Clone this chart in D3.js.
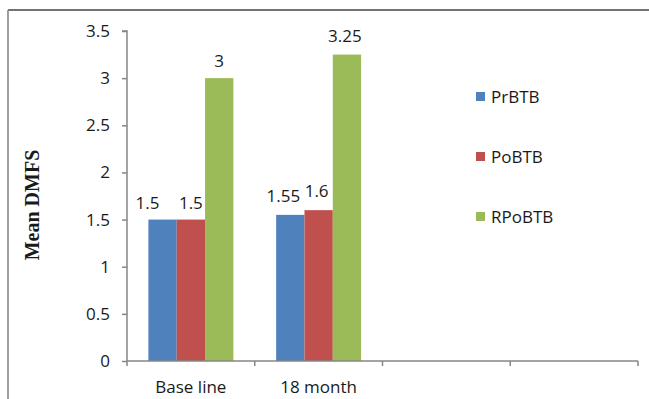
<!DOCTYPE html>
<html>
<head>
<meta charset="utf-8">
<script src="https://cdn.jsdelivr.net/npm/d3@7"></script>
<style>
  html, body { margin: 0; padding: 0; background: #fff; }
  svg { display: block; }
  text { font-family: "Open Sans", "Noto Sans", sans-serif; fill: #1a1a1a; }
</style>
</head>
<body>
<svg id="chart" width="649" height="399"></svg>
<script>
// Category slots on the x axis (the last two are left empty)
const categories = ["Base line", "18 month", "", ""];
const seriesNames = ["PrBTB", "PoBTB", "RPoBTB"];
const prBTB  = [1.5, 1.55];
const poBTB  = [1.5, 1.6];
const rpoBTB = [3, 3.25];
const yTicks = [0, 0.5, 1, 1.5, 2, 2.5, 3, 3.5];
const colors = ["#4F81BD", "#C0504D", "#9BBB59"];

const values = [prBTB, poBTB, rpoBTB];
const FS = 17;

const svg = d3.select("#chart");

// Frame around the chart
svg.append("line").attr("x1", 8).attr("x2", 649).attr("y1", 10).attr("y2", 10)
  .attr("stroke", "#444").attr("stroke-width", 1.6);
svg.append("line").attr("x1", 8).attr("x2", 8).attr("y1", 10).attr("y2", 399)
  .attr("stroke", "#888").attr("stroke-width", 1.6);

const x = d3.scaleBand().domain(d3.range(categories.length)).range([127, 638]).padding(0);
const y = d3.scaleLinear().domain([0, 3.5]).range([361, 31]);

const groupW = x.bandwidth() * 0.665;
const xs = d3.scaleBand().domain(d3.range(seriesNames.length)).range([0, groupW]).padding(0);

// Bars
const groups = svg.append("g");
values.forEach((vals, s) => {
  groups.selectAll(null)
    .data(vals)
    .enter().append("rect")
    .attr("x", (d, i) => x(i) + (x.bandwidth() - groupW) / 2 + xs(s))
    .attr("y", d => y(d))
    .attr("width", xs.bandwidth())
    .attr("height", d => y(0) - y(d))
    .attr("fill", colors[s]);
});

// Value labels above bars (small horizontal nudges keep neighbours apart)
const nudge = [[-15, -7], [0, -2], [0, -2]];
values.forEach((vals, s) => {
  svg.selectAll(null)
    .data(vals)
    .enter().append("text")
    .attr("x", (d, i) => x(i) + (x.bandwidth() - groupW) / 2 + xs(s) + xs.bandwidth() / 2 + nudge[s][i])
    .attr("y", (d, i) => y(d) - (i === 0 ? 11 : 13))
    .attr("text-anchor", "middle")
    .attr("font-size", FS)
    .text(d => String(d));
});

// Y axis
const yAxis = svg.append("g")
  .attr("transform", "translate(127,0)")
  .call(d3.axisLeft(y).tickValues(yTicks).tickSize(5).tickPadding(12).tickFormat(d => String(d)));
yAxis.select(".domain").attr("stroke", "#868686").attr("stroke-width", 1.5)
  .attr("d", `M-5,${y(3.5)}H0V${y(0)}`);
yAxis.selectAll(".tick line").attr("stroke", "#868686").attr("stroke-width", 1.5);
yAxis.selectAll(".tick text").attr("font-size", FS).attr("font-family", "'Open Sans', sans-serif").attr("fill", "#1a1a1a");

// X axis with ticks on category boundaries
const bounds = d3.range(categories.length).map(i => x(i)).concat([x.range()[1]]);
const xAxis = svg.append("g");
xAxis.append("line").attr("x1", x.range()[0]).attr("x2", x.range()[1])
  .attr("y1", y(0)).attr("y2", y(0)).attr("stroke", "#868686").attr("stroke-width", 1.5);
xAxis.selectAll(null).data(bounds).enter().append("line")
  .attr("x1", d => d).attr("x2", d => d)
  .attr("y1", y(0)).attr("y2", y(0) + 5)
  .attr("stroke", "#868686").attr("stroke-width", 1.5);
xAxis.selectAll(null).data(categories).enter().append("text")
  .attr("x", (d, i) => x(i) + x.bandwidth() / 2)
  .attr("y", 393)
  .attr("text-anchor", "middle")
  .attr("font-size", FS)
  .text(d => d);

// Y axis title
svg.append("text")
  .attr("transform", "translate(39,205) rotate(-90)")
  .attr("text-anchor", "middle")
  .attr("font-weight", "bold")
  .attr("font-size", 20)
  .style("font-family", "'Liberation Serif', serif")
  .text("Mean DMFS");

// Legend
const legend = svg.append("g");
seriesNames.forEach((name, s) => {
  const cy = 97 + s * 60;
  legend.append("rect").attr("x", 476).attr("y", cy - 5).attr("width", 9).attr("height", 9)
    .attr("fill", colors[s]);
  legend.append("text").attr("x", 491).attr("y", cy + 6)
    .attr("font-size", FS).text(name);
});
</script>
</body>
</html>
